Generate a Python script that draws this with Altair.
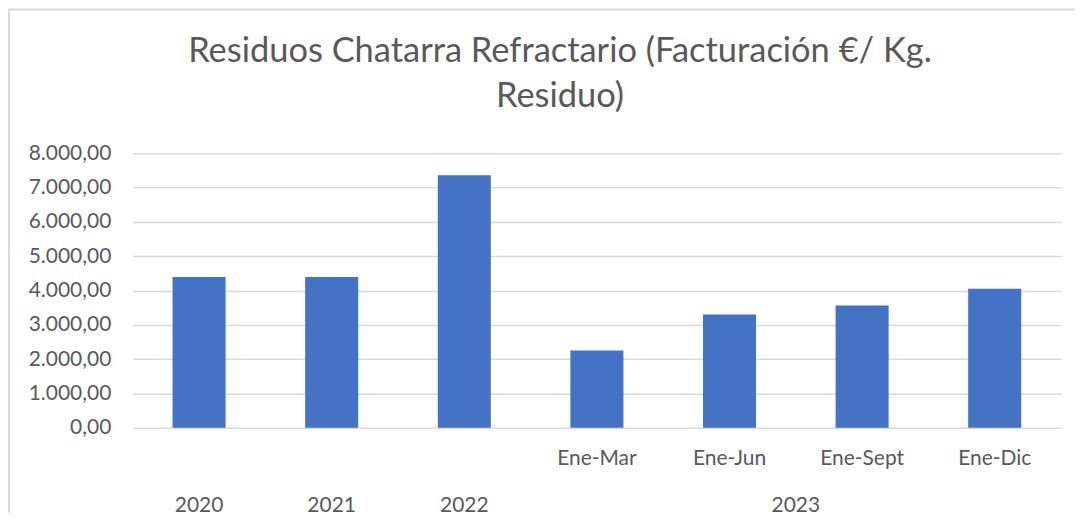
import altair as alt
import pandas as pd

categories = ["2020", "2021", "2022", "Ene-Mar", "Ene-Jun", "Ene-Sept", "Ene-Dic"]
years = ["2020", "2021", "2022", "2023", "2023", "2023", "2023"]
values = [4390, 4390, 7360, 2250, 3300, 3560, 4050]
title_lines = ["Residuos Chatarra Refractario (Facturación €/ Kg.", "Residuo)"]

df = pd.DataFrame({
    "cat": categories,
    "year": years,
    "value": values,
    "idx": list(range(len(categories))),
})

W, H = 930, 275
FONT = "Lato"
GRAY = "#595959"

bars = alt.Chart(df).mark_bar(color="#4472C4").encode(
    x=alt.X(
        "cat:N",
        sort=categories,
        title=None,
        scale=alt.Scale(paddingInner=0.6, paddingOuter=0.3),
        axis=alt.Axis(
            labelExpr="length(datum.label) == 4 ? '' : datum.label",
            labelAngle=0,
            ticks=False,
            domain=False,
            grid=False,
            labelPadding=20,
            labelFontSize=21,
            labelColor=GRAY,
            labelFont=FONT,
        ),
    ),
    y=alt.Y(
        "value:Q",
        title=None,
        scale=alt.Scale(domain=[0, 8000]),
        axis=alt.Axis(
            values=[0, 1000, 2000, 3000, 4000, 5000, 6000, 7000, 8000],
            format=",.2f",
            ticks=False,
            domain=False,
            labelPadding=22,
            labelFontSize=21,
            labelColor=GRAY,
            labelFont=FONT,
            gridColor="#D9D9D9",
            gridWidth=1.5,
        ),
    ),
)

year_text = alt.Chart(df).transform_calculate(
    pos="datum.idx + 0.5"
).transform_aggregate(
    center="mean(pos)", groupby=["year"]
).mark_text(font=FONT, fontSize=21, color=GRAY, baseline="middle").encode(
    x=alt.X("center:Q", scale=alt.Scale(domain=[0, len(categories)]), axis=None),
    y=alt.value(H + 78),
    text="year:N",
)

border_df = pd.DataFrame({"k": ["b"]})
border_top = alt.Chart(border_df).mark_rule(color="#D9D9D9", strokeWidth=2).encode(
    x=alt.value(-124), x2=alt.value(944), y=alt.value(-144)
)
border_left = alt.Chart(border_df).mark_rule(color="#D9D9D9", strokeWidth=2).encode(
    x=alt.value(-124), y=alt.value(-144), y2=alt.value(360)
)

chart = alt.layer(bars, year_text, border_top, border_left).resolve_scale(
    x="independent"
).properties(
    width=W,
    height=H,
    padding=0,
    title=alt.TitleParams(
        text=title_lines,
        font=FONT,
        fontSize=34.5,
        fontWeight="normal",
        color=GRAY,
        lineHeight=45,
        anchor="middle",
        frame="group",
        dx=-37,
        offset=-106,
    ),
).configure(
    locale={"number": {"decimal": ",", "thousands": ".", "grouping": [3], "currency": ["", " €"]}},
    view=alt.ViewConfig(stroke="transparent", strokeWidth=0),
)

chart.save("out.html", embed_options={"renderer": "svg", "actions": False})
